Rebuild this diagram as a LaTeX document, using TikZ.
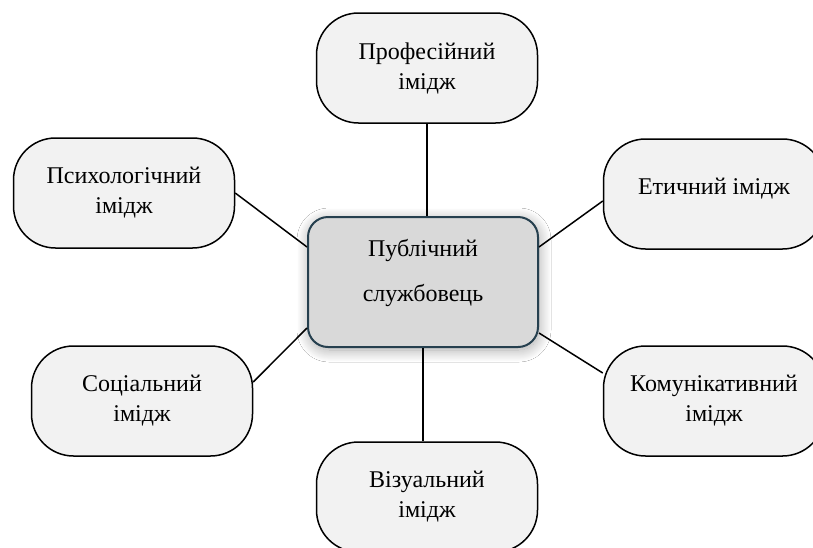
\documentclass[tikz,border=0pt]{standalone}
\usepackage{fontspec}
\setmainfont{Liberation Serif}
\usetikzlibrary{shadows.blur}
\definecolor{outerfill}{HTML}{F2F2F2}
\definecolor{centerfill}{HTML}{D9D9D9}
\definecolor{centerline}{HTML}{26404F}
\begin{document}
\begin{tikzpicture}[x=1pt,y=-1pt,
  imgbox/.style={draw=black, line width=1.5pt, fill=outerfill, rounded corners=42pt,
    minimum width=221pt, minimum height=110pt, align=center, inner sep=0pt,
    font=\fontsize{24}{30}\selectfont},
  hubbox/.style={draw=centerline, line width=2pt, fill=centerfill, rounded corners=20pt,
    minimum width=230pt, minimum height=130pt, align=center, inner sep=0pt,
    font=\fontsize{24}{30}\selectfont, text depth=24pt,
    blur shadow={shadow xshift=1pt, shadow yshift=-3pt, shadow blur radius=12pt, shadow opacity=35, shadow blur steps=20}},
  link/.style={draw=black, line width=1.5pt}]
\useasboundingbox (0,0) rectangle (813,547);
\clip (0,0) rectangle (813,547);
\fill[white] (0,0) rectangle (813,547);
\node[hubbox] (cen) at (423,282) {Публічний\\[15pt]службовець};
\node[imgbox] (top) at (427,68) {Професійний\\імідж};
\node[imgbox] (psy) at (124,193) {Психологічний\\імідж};
\node[imgbox, text depth=16pt] (eth) at (714,194) {Етичний імідж};
\node[imgbox] (soc) at (142,401) {Соціальний\\імідж};
\node[imgbox] (com) at (714,401) {Комунікативний\\імідж};
\node[imgbox] (vis) at (427,497) {Візуальний\\імідж};
\draw[link] (top.south) -- (top.south |- cen.north);
\draw[link] (cen.south) -- (cen.south |- vis.north);
\draw[link] (psy.east) -- ([yshift=35pt]cen.west);
\draw[link] ([yshift=35pt]cen.east) -- ([yshift=-7pt]eth.west);
\draw[link] ([yshift=19pt]soc.east) -- ([yshift=-46pt]cen.west);
\draw[link] ([yshift=-51pt]cen.east) -- ([yshift=28pt]com.west);
\end{tikzpicture}
\end{document}
